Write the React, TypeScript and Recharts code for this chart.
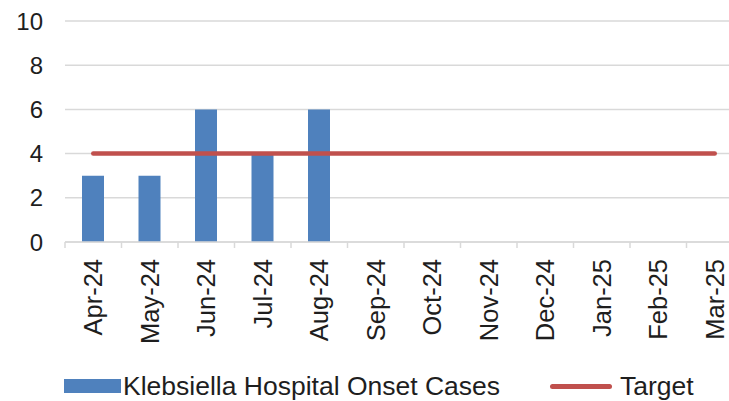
import React from 'react';
import { ComposedChart, Bar, Line, XAxis, YAxis, CartesianGrid, Legend } from 'recharts';

const months = ['Apr-24', 'May-24', 'Jun-24', 'Jul-24', 'Aug-24', 'Sep-24', 'Oct-24', 'Nov-24', 'Dec-24', 'Jan-25', 'Feb-25', 'Mar-25'];
const cases: (number | null)[] = [3, 3, 6, 4, 6, null, null, null, null, null, null, null];
const target = [4, 4, 4, 4, 4, 4, 4, 4, 4, 4, 4, 4];
const yTicks = [0, 2, 4, 6, 8, 10];

const BLUE = '#4F81BD';
const RED = '#C0504D';
const GRID = '#d9d9d9';
const TEXT = '#1e1e1e';
const FONT = '"Liberation Sans", Arial, sans-serif';

const data = months.map((m, i) => ({ name: m, cases: cases[i], target: target[i] }));

const MonthTick = (props: any) => {
  const { x, y, payload } = props;
  const half = payload && payload.offset ? payload.offset : 28.25;
  return (
    <g>
      <line x1={x - half} x2={x - half} y1={y - 8} y2={y - 2} stroke={GRID} strokeWidth={1.5} />
      <text
        x={x}
        y={y + 9}
        dy="0.36em"
        textAnchor="end"
        transform={`rotate(-90, ${x}, ${y + 9})`}
        fill={TEXT}
        fontSize={25.5}
        fontFamily={FONT}
      >
        {payload.value}
      </text>
    </g>
  );
};

const LegendBox = () => (
  <div style={{ position: 'relative', width: 729, height: 54, fontFamily: FONT, fontSize: 26.5, color: TEXT }}>
    <div style={{ position: 'absolute', left: 64, top: 32, width: 57, height: 14, background: BLUE }} />
    <div style={{ position: 'absolute', left: 123, top: 24, lineHeight: '30px', whiteSpace: 'nowrap' }}>
      Klebsiella Hospital Onset Cases
    </div>
    <div style={{ position: 'absolute', left: 550, top: 37, width: 62, height: 5, borderRadius: 3, background: RED }} />
    <div style={{ position: 'absolute', left: 620, top: 24, lineHeight: '30px', whiteSpace: 'nowrap' }}>
      Target
    </div>
  </div>
);

export default function App() {
  return (
    <div style={{ position: 'absolute', left: 0, top: 0, width: 729, height: 401, overflow: 'hidden', background: '#fff' }}>
      <ComposedChart
        width={745}
        height={401}
        data={data}
        margin={{ top: 21, right: 2, left: 0, bottom: 0 }}
        barCategoryGap="61%"
      >
        <CartesianGrid vertical={false} stroke={GRID} strokeWidth={1.5} />
        <XAxis
          dataKey="name"
          interval={0}
          height={105}
          axisLine={{ stroke: GRID, strokeWidth: 1.5 }}
          tickLine={false}
          tick={<MonthTick />}
        />
        <YAxis
          domain={[0, 10]}
          ticks={yTicks}
          width={65}
          axisLine={false}
          tickLine={false}
          tickSize={0}
          tickMargin={22}
          tick={{ fill: TEXT, fontSize: 24, fontFamily: FONT }}
        />
        <Legend verticalAlign="bottom" height={54} content={<LegendBox />} />
        <Bar dataKey="cases" name="Klebsiella Hospital Onset Cases" fill={BLUE} barSize={22} isAnimationActive={false} />
        <Line
          dataKey="target"
          name="Target"
          type="linear"
          stroke={RED}
          strokeWidth={4.5}
          strokeLinecap="round"
          dot={false}
          activeDot={false}
          isAnimationActive={false}
        />
      </ComposedChart>
    </div>
  );
}
